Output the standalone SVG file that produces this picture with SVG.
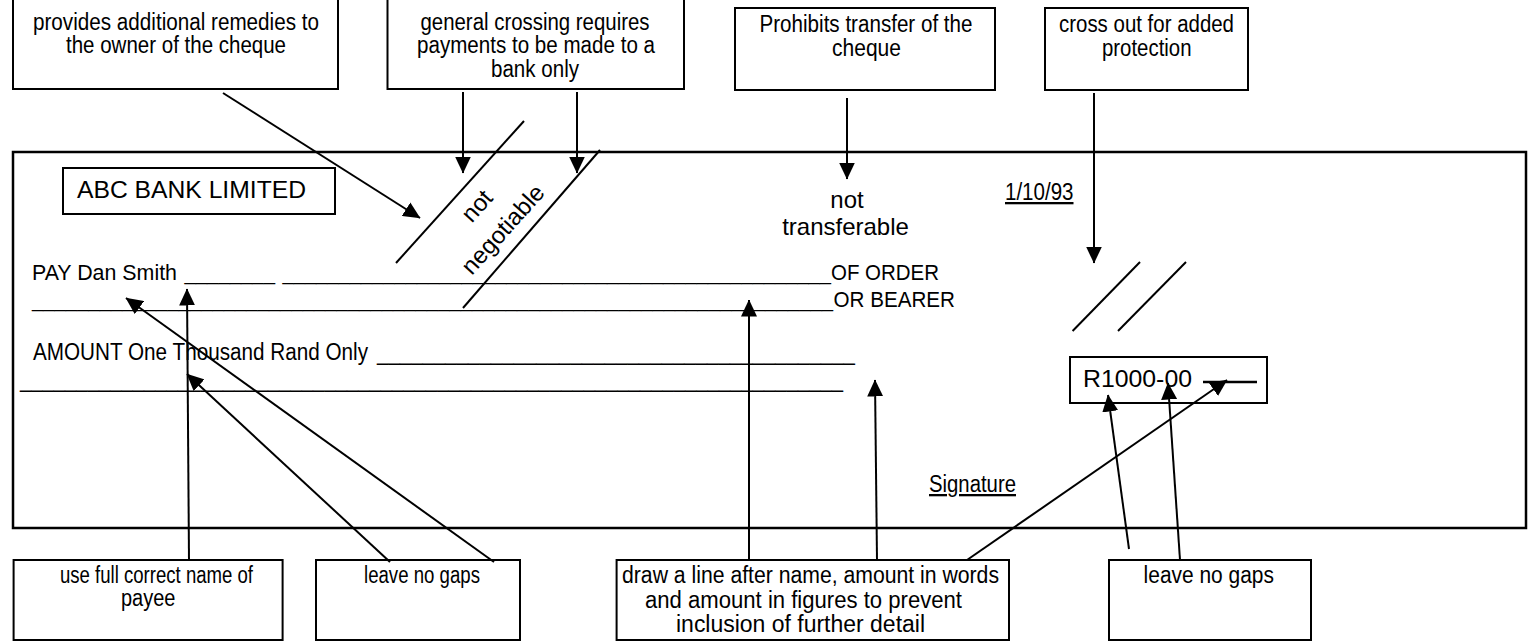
<svg xmlns="http://www.w3.org/2000/svg" width="1533" height="641" viewBox="0 0 1533 641">
<defs>
<style>
.box{fill:#fff;stroke:#000;stroke-width:2}
.cq{fill:none;stroke:#000;stroke-width:2.5}
.n{font-family:"Liberation Sans Narrow","Liberation Sans",Arial,sans-serif;font-size:23px;fill:#000}
.p{font-size:21.5px}
.r{font-family:"Liberation Sans",Arial,sans-serif;font-size:24px;fill:#000}
.ln{stroke:#000;stroke-width:2;fill:none}
.con line{stroke:#000;stroke-width:2;marker-end:url(#ah)}
</style>
<marker id="ah" markerUnits="userSpaceOnUse" viewBox="0 0 17 16" markerWidth="17" markerHeight="16" refX="16.5" refY="8" orient="auto"><path d="M0,0 L17,8 L0,16 z" fill="#000"/></marker>
</defs>
<rect width="1533" height="641" fill="#fff"/>

<g id="cheque">
<rect class="cq" x="13" y="152" width="1513" height="376"/>
<g id="bank-name"><rect class="box" x="63" y="168" width="272" height="46"/><text class="r" x="77" y="198" textLength="229" lengthAdjust="spacingAndGlyphs">ABC BANK LIMITED</text></g>
<g id="crossing-left">
<line class="ln" x1="396" y1="263" x2="524" y2="121"/>
<line class="ln" x1="463" y1="308" x2="600" y2="150"/>
<text class="r" text-anchor="middle" transform="translate(460.6,191.3) rotate(-48)"><tspan x="0" y="30">not</tspan><tspan x="0" y="65">negotiable</tspan></text>
</g>
<g id="not-transferable"><text class="r" text-anchor="middle"><tspan x="847" y="208">not</tspan><tspan x="845.5" y="235">transferable</tspan></text></g>
<g id="date"><text class="n" x="1005" y="200" font-size="21" textLength="68.5" lengthAdjust="spacingAndGlyphs" text-decoration="underline">1/10/93</text></g>
<g id="crossing-right">
<line class="ln" x1="1072.6" y1="331" x2="1140" y2="262"/>
<line class="ln" x1="1118" y1="331" x2="1186" y2="262"/>
</g>
<g id="pay-line">
<text class="n p" y="280"><tspan x="32" textLength="145" lengthAdjust="spacingAndGlyphs">PAY Dan Smith</tspan> <tspan x="184.5" textLength="90.5" lengthAdjust="spacingAndGlyphs">________</tspan> <tspan x="282.5" textLength="548.5" lengthAdjust="spacingAndGlyphs">_________________________________________________</tspan><tspan x="831" textLength="108" lengthAdjust="spacingAndGlyphs">OF ORDER</tspan></text>
<text class="n p" y="307"><tspan x="32" textLength="801" lengthAdjust="spacingAndGlyphs">_______________________________________________________________________</tspan><tspan x="833.5" textLength="121.5" lengthAdjust="spacingAndGlyphs">OR BEARER</tspan></text>
</g>
<g id="amount-line">
<text class="n" y="360"><tspan x="33" textLength="335" lengthAdjust="spacingAndGlyphs">AMOUNT One Thousand Rand Only</tspan> <tspan x="377" textLength="478" lengthAdjust="spacingAndGlyphs">__________________________________________</tspan></text>
<text class="n" x="20" y="387" textLength="823" lengthAdjust="spacingAndGlyphs">_________________________________________________________________________</text>
</g>
<g id="figures"><rect class="box" x="1070" y="357" width="197" height="46"/><text class="r" x="1083" y="387" textLength="109" lengthAdjust="spacingAndGlyphs">R1000-00</text><line x1="1203" y1="382" x2="1257" y2="382" stroke="#000" stroke-width="2.5"/></g>
<g id="signature"><text class="n" x="929" y="492" textLength="87" lengthAdjust="spacingAndGlyphs" text-decoration="underline">Signature</text></g>
</g>

<g id="note-remedies"><rect class="box" x="13" y="-3" width="325" height="92"/><text class="n"><tspan x="33" y="29.5" textLength="286" lengthAdjust="spacingAndGlyphs">provides additional remedies to</tspan><tspan x="66" y="53" textLength="220" lengthAdjust="spacingAndGlyphs">the owner of the cheque</tspan></text></g>
<g id="note-general-crossing"><rect class="box" x="387.5" y="-3" width="296.5" height="92"/><text class="n"><tspan x="420.5" y="29.5" textLength="229" lengthAdjust="spacingAndGlyphs">general crossing requires</tspan><tspan x="417" y="53" textLength="238" lengthAdjust="spacingAndGlyphs">payments to be made to a</tspan><tspan x="491" y="76.5" textLength="88" lengthAdjust="spacingAndGlyphs">bank only</tspan></text></g>
<g id="note-prohibits"><rect class="box" x="735" y="8" width="260" height="82"/><text class="n"><tspan x="759.5" y="32" textLength="213" lengthAdjust="spacingAndGlyphs">Prohibits transfer of the</tspan><tspan x="832" y="55.5" textLength="69" lengthAdjust="spacingAndGlyphs">cheque</tspan></text></g>
<g id="note-cross-out"><rect class="box" x="1045" y="8" width="203" height="82"/><text class="n"><tspan x="1059" y="32" textLength="175" lengthAdjust="spacingAndGlyphs">cross out for added</tspan><tspan x="1102" y="55.5" textLength="89.5" lengthAdjust="spacingAndGlyphs">protection</tspan></text></g>

<g id="note-payee"><rect class="box" x="13.6" y="560" width="269" height="80"/><text class="n"><tspan x="60" y="583" textLength="193" lengthAdjust="spacingAndGlyphs">use full correct name of</tspan><tspan x="121" y="606" textLength="54.5" lengthAdjust="spacingAndGlyphs">payee</tspan></text></g>
<g id="note-gaps-left"><rect class="box" x="316" y="560" width="204" height="80"/><text class="n" x="364" y="583" textLength="116" lengthAdjust="spacingAndGlyphs">leave no gaps</text></g>
<g id="note-draw-line"><rect class="box" x="616.6" y="560" width="392.4" height="80"/><text class="n"><tspan x="622" y="583" textLength="377" lengthAdjust="spacingAndGlyphs">draw a line after name, amount in words</tspan><tspan x="645" y="607.5" textLength="317" lengthAdjust="spacingAndGlyphs">and amount in figures to prevent</tspan><tspan x="676" y="632" textLength="249" lengthAdjust="spacingAndGlyphs">inclusion of further detail</tspan></text></g>
<g id="note-gaps-right"><rect class="box" x="1109" y="560" width="202" height="80"/><text class="n" x="1143.6" y="583" textLength="130.4" lengthAdjust="spacingAndGlyphs">leave no gaps</text></g>

<g id="connectors" class="con">
<line x1="223" y1="93" x2="420" y2="218"/>
<line x1="463" y1="92" x2="463" y2="173"/>
<line x1="577" y1="92" x2="577" y2="173"/>
<line x1="847" y1="98" x2="847" y2="179"/>
<line x1="1094" y1="93" x2="1094" y2="263"/>
<line x1="189" y1="560" x2="187" y2="289"/>
<line x1="390" y1="562" x2="187" y2="374"/>
<line x1="494" y1="562" x2="126" y2="298"/>
<line x1="749" y1="560" x2="749" y2="300"/>
<line x1="877" y1="560" x2="875" y2="380"/>
<line x1="967" y1="560" x2="1227" y2="380"/>
<line x1="1129" y1="549" x2="1108" y2="395"/>
<line x1="1180" y1="560" x2="1168" y2="383"/>
</g>
</svg>
